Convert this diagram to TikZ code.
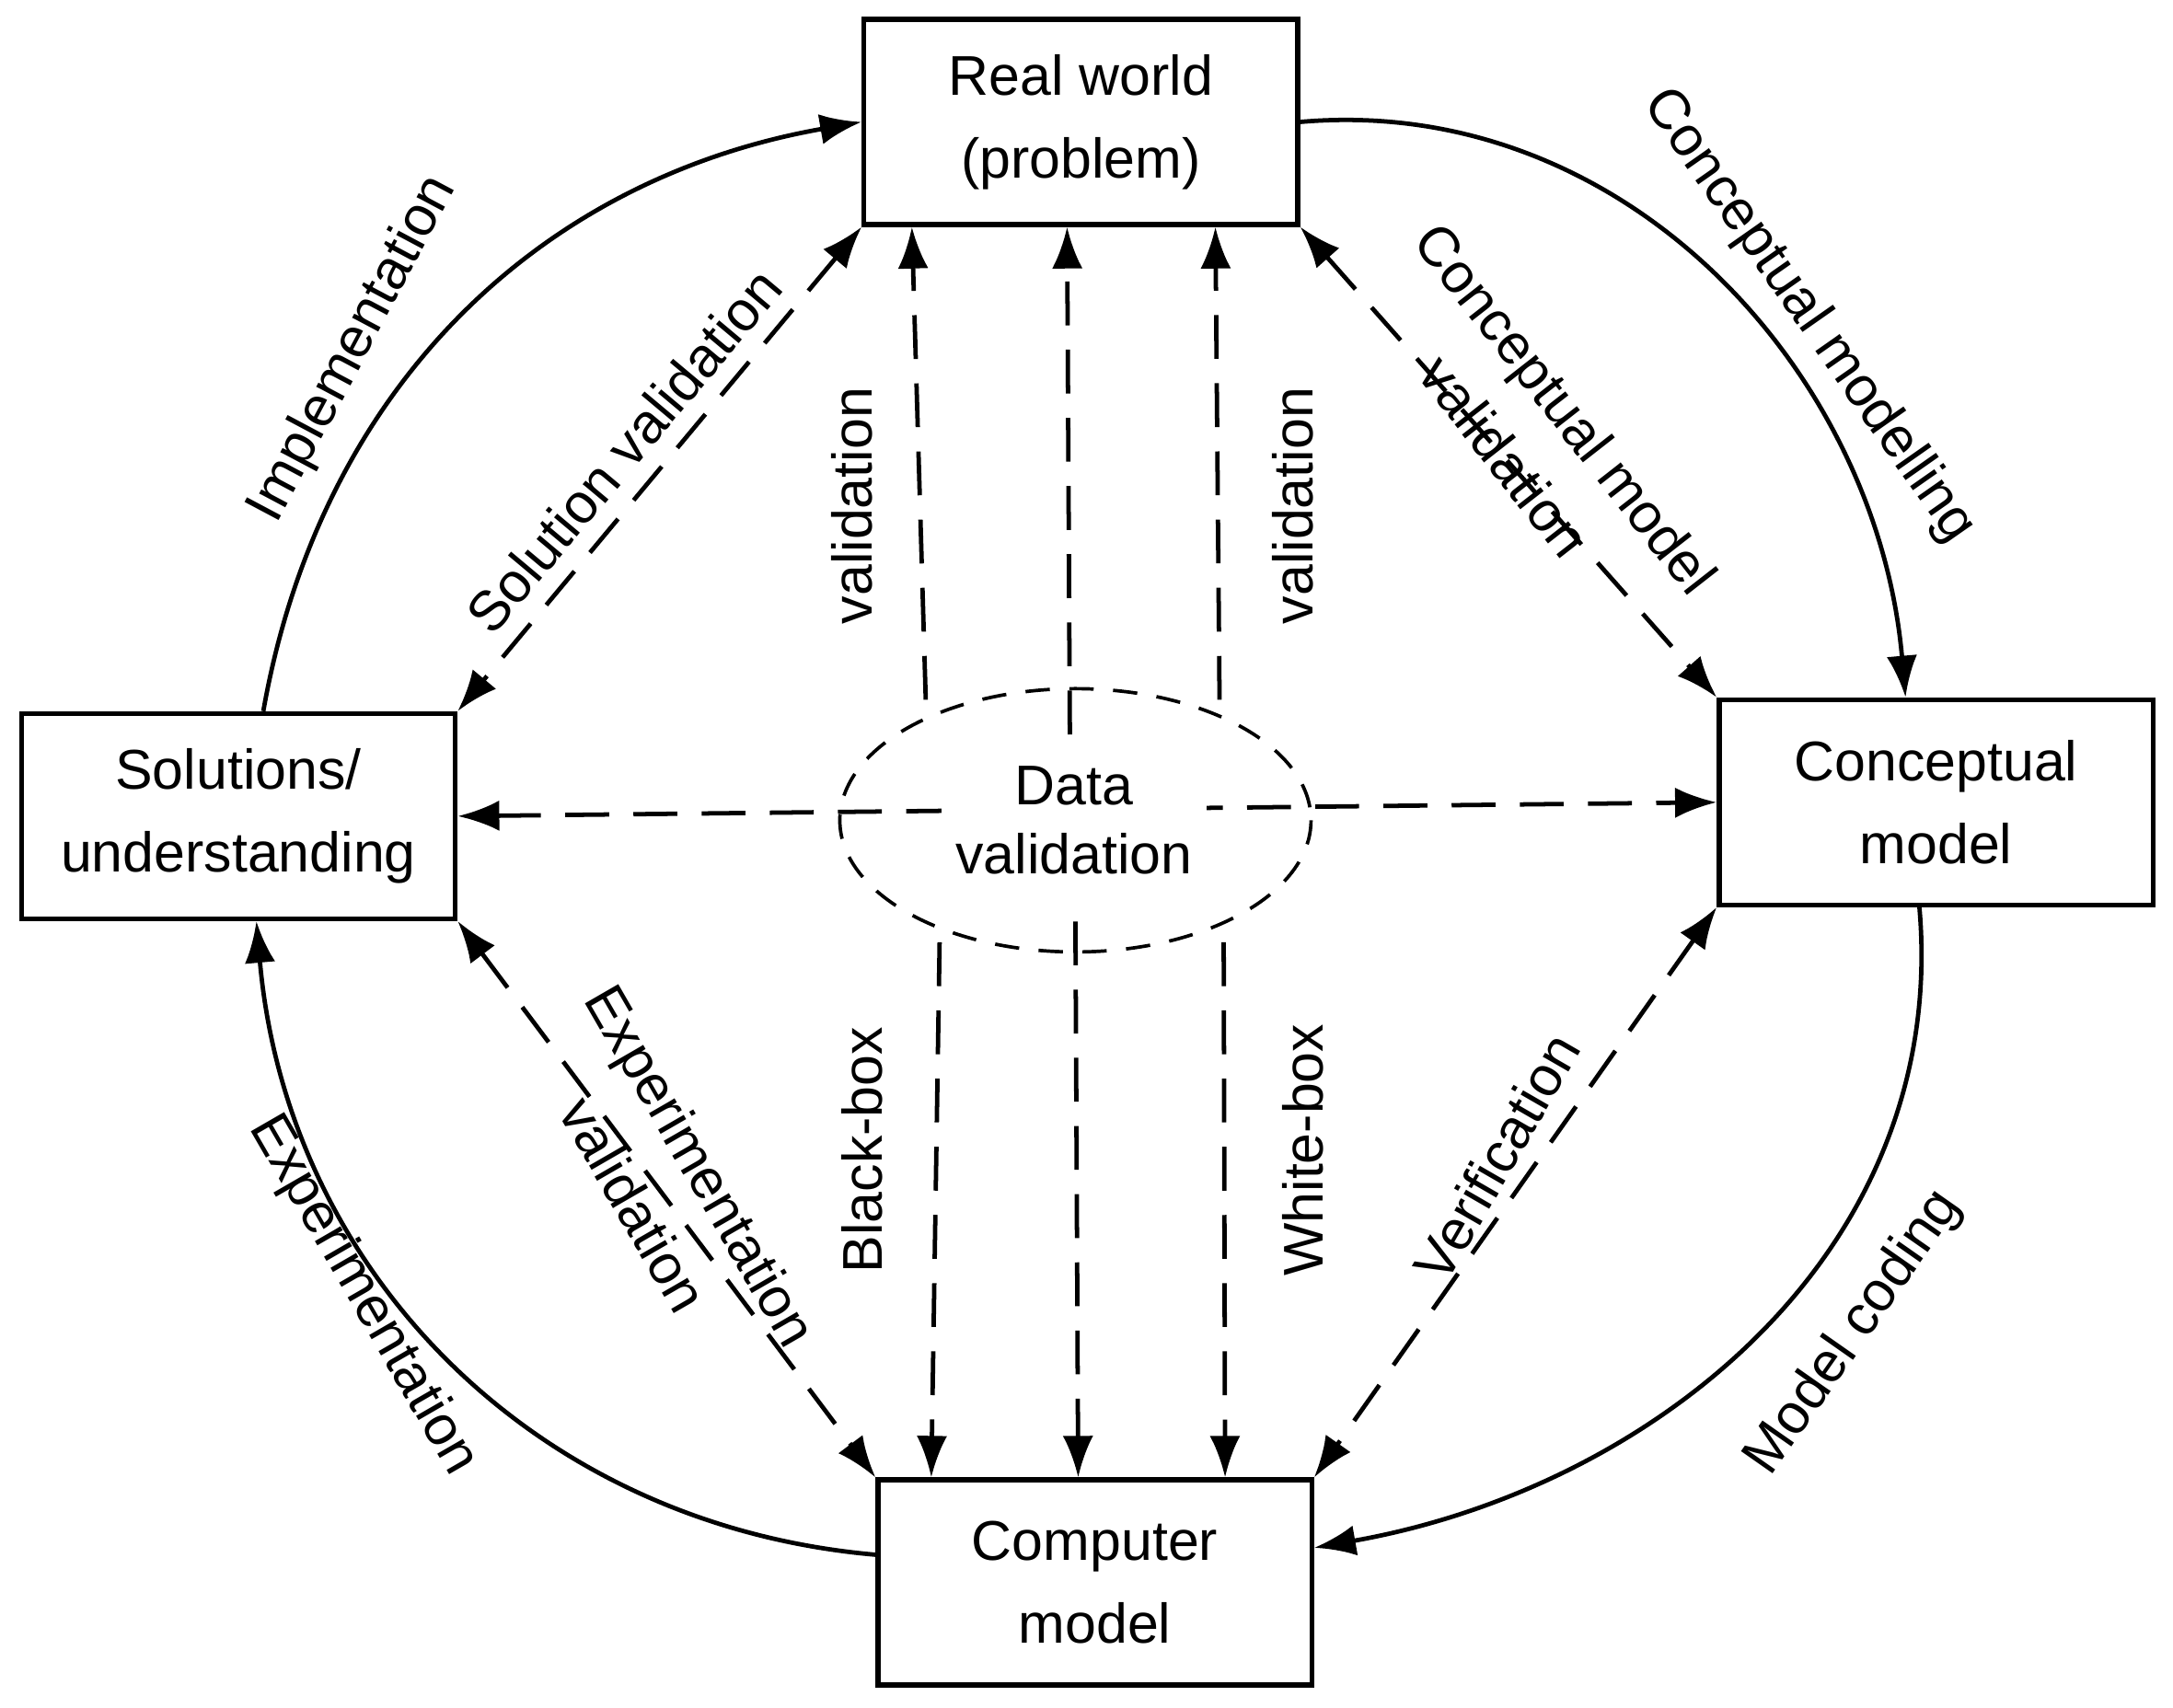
\documentclass[tikz,border=0pt]{standalone}
\usepackage{fontspec}
\setmainfont{Liberation Sans}
\usetikzlibrary{arrows.meta,calc}
\begin{document}
\begin{tikzpicture}[x=0.1mm,y=-0.1mm,
  box/.style={draw,line width=1pt,minimum width=31.3mm,minimum height=14.8mm,align=center,font=\fontsize{11.5}{17}\selectfont},
  lab/.style={font=\fontsize{11.5}{14}\selectfont,align=center,inner sep=1pt},
  lab2/.style={font=\fontsize{11.5}{16}\selectfont,align=center,inner sep=1pt},
  tip/.style={-{Latex[length=3mm,width=2.2mm]}},
  dtip/.style={{Latex[length=3mm,width=2.2mm]}-{Latex[length=3mm,width=2.2mm]}},
  arc/.style={line width=0.9pt,tip},
  dl/.style={line width=0.9pt,dash pattern=on 9pt off 5pt}]
\useasboundingbox (0,0) rectangle (1568,1232);
\node[box] (rw) at (780,88) {Real world\\(problem)};
\node[box] (sol) at (172,589) {Solutions/\\understanding};
\node[box] (cm) at (1397,579) {Conceptual\\model};
\node[box] (comp) at (790,1142) {Computer\\model};
% outer cycle
\draw[arc] ($(sol.north)+(18,0)$) to[out=80,in=190] (rw.west);
\draw[arc] (rw.east) to[out=5,in=95] ($(cm.north)+(-22,0)$);
\draw[arc] ($(cm.south)+(-12,0)$) to[out=-85,in=10] ($(comp.east)+(0,-25)$);
\draw[arc] ($(comp.west)+(0,-20)$) to[out=175,in=-85] ($(sol.south)+(13,0)$);
% data validation blob
\draw[line width=0.7pt,dash pattern=on 5pt off 4pt] (776,592) ellipse [x radius=170,y radius=95];
% horizontal
\draw[dl,dtip] (sol.east) -- (cm.west);
\node[lab,fill=white,inner sep=3pt] (dv) at (775,592) {Data\\validation};
% verticals
\coordinate (l1) at (668,505); \coordinate (l2) at (678,680);
\coordinate (m1) at (772,530); \coordinate (m2) at (776,665);
\coordinate (r1) at (880,505); \coordinate (r2) at (883,680);
\draw[dl,tip] (l1) -- (rw.south -| 658,0);
\draw[dl,tip] (m1) -- (rw.south -| 770,0);
\draw[dl,tip] (r1) -- (rw.south -| 877,0);
\draw[dl,tip] (l2) -- (comp.north -| 672,0);
\draw[dl,tip] (m2) -- (comp.north -| 778,0);
\draw[dl,tip] (r2) -- (comp.north -| 884,0);
% diagonals
\draw[dl,dtip] (rw.south west) -- (sol.north east);
\draw[dl,dtip] (rw.south east) -- (cm.north west);
\draw[dl,dtip] (sol.south east) -- (comp.north west);
\draw[dl,dtip] (cm.south west) -- (comp.north east);
% labels
\node[lab,rotate=62] at (255,252) {Implementation};
\node[lab,rotate=-55] at (1305,228) {Conceptual modelling};
\node[lab,rotate=55] at (1338,962) {Model coding};
\node[lab,rotate=-60] at (262,935) {Experimentation};
\node[lab,rotate=50] at (450,325) {Solution validation};
\node[lab2,rotate=-52] at (1108,312) {Conceptual model\\validation};
\node[lab2,rotate=-60] at (482,855) {Experimentation\\validation};
\node[lab,rotate=60] at (1080,835) {Verification};
\node[lab,rotate=90] at (615,365) {validation};
\node[lab,rotate=90] at (622,830) {Black-box};
\node[lab,rotate=90] at (933,365) {validation};
\node[lab,rotate=90] at (940,830) {White-box};
\end{tikzpicture}
\end{document}
